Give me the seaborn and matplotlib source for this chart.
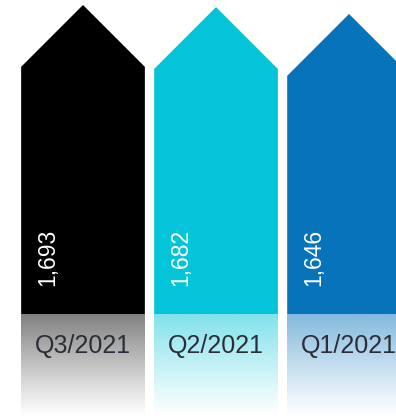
import numpy as np
import pandas as pd
import matplotlib
matplotlib.use("Agg")
import matplotlib.pyplot as plt
from matplotlib.patches import Polygon
import matplotlib.colors as mcolors
import seaborn as sns

quarters = ["Q3/2021", "Q2/2021", "Q1/2021"]
values = [1693, 1682, 1646]
value_labels = ["1,693", "1,682", "1,646"]
colors = ["#000000", "#03C4D8", "#0673BA"]

sns.set_theme(style="white")
plt.rcParams["font.family"] = ["Liberation Sans", "DejaVu Sans"]

W, H = 396, 418
dpi = 100
fig = plt.figure(figsize=(W / dpi, H / dpi), dpi=dpi)
split = 314  # pixel row where bars end and reflection begins
ax = fig.add_axes([0, (H - split) / H, 1, split / H])
axr = fig.add_axes([0, 0, 1, (H - split) / H])

df = pd.DataFrame({"quarter": quarters, "value": values})
bar_w = 0.93
sns.barplot(data=df, x="quarter", y="value", hue="quarter", palette=colors,
            width=bar_w, legend=False, ax=ax, saturation=1)

xlim = (-0.624, 2.353)
ylim = (79, 1719)
ax.set_xlim(*xlim)
ax.set_ylim(*ylim)
axr.set_xlim(*xlim)
axr.set_ylim(0, 1)

px_per_x = W / (xlim[1] - xlim[0])
px_per_y = split / (ylim[1] - ylim[0])

for p, col in zip(list(ax.patches), colors):
    x, w, h = p.get_x(), p.get_width(), p.get_height()
    head = (w * px_per_x / 2) / px_per_y
    verts = [(x, 0), (x, h - head), (x + w / 2, h), (x + w, h - head), (x + w, 0)]
    p.remove()
    ax.add_patch(Polygon(verts, closed=True, facecolor=col, edgecolor="none"))

# value labels (rotated, white)
for i, lab in enumerate(value_labels):
    ax.text(i - bar_w / 2 + 0.2, 0.09, lab, rotation=90, color="white",
            fontsize=16.5, ha="center", va="bottom",
            transform=ax.get_xaxis_transform())

# reflection gradients
n = 200
for i, col in enumerate(colors):
    rgb = np.array(mcolors.to_rgb(col))
    arr = np.zeros((n, 1, 4))
    arr[:, 0, :3] = rgb
    t = np.linspace(0, 1, n)
    arr[:, 0, 3] = 0.5 * (1 - t) ** 1.1
    axr.imshow(arr, extent=(i - bar_w / 2, i + bar_w / 2, 0.0, 1.0),
               aspect="auto", origin="upper", interpolation="bilinear")
    axr.text(i, 0.695, quarters[i], color="#2A2E38", fontsize=18,
             ha="center", va="center")
axr.set_xlim(*xlim)
axr.set_ylim(0, 1)

for a in (ax, axr):
    a.set_axis_off()

fig.savefig("out.png", dpi=dpi, facecolor="white")
